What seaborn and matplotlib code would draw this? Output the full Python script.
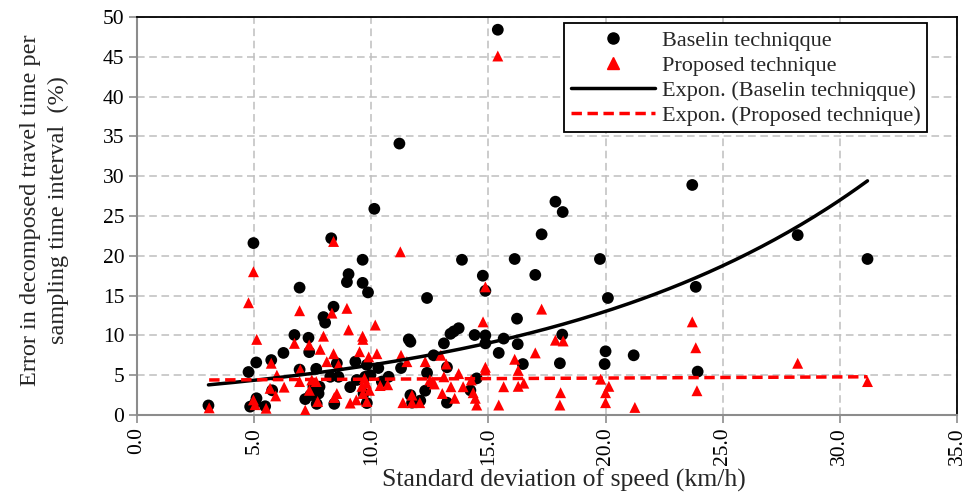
import numpy as np
import pandas as pd
import matplotlib
matplotlib.use("Agg")
import matplotlib.pyplot as plt
import seaborn as sns
from matplotlib.lines import Line2D

# ---------------- data ----------------
base_x = [3.05, 4.76, 4.83, 4.97, 5.04, 5.10, 5.09, 5.47, 5.73, 5.77, 6.25, 6.72, 6.94, 6.94,
          7.18, 7.32, 7.35, 7.40, 7.53, 7.65, 7.67, 7.75, 7.79, 7.96, 8.03, 8.29, 8.39, 8.25,
          8.42, 8.53, 8.60, 8.96, 9.03, 9.10, 9.32, 9.38, 9.63, 9.63, 9.67, 9.74, 9.81, 9.81,
          9.86, 9.96, 10.13, 10.30, 10.45, 10.74, 11.20, 11.27, 11.60, 11.67, 11.67, 11.74,
          12.09, 12.30, 12.38, 12.38, 12.66, 13.10, 13.23, 13.23, 13.38, 13.52, 13.73, 13.87,
          14.23, 14.41, 14.50, 14.76, 14.87, 14.87, 14.87, 15.40, 15.44, 15.65, 16.12, 16.22,
          16.25, 16.47, 17.00, 17.27, 17.86, 18.17, 18.15, 18.05, 19.76, 19.96, 20.00, 20.10,
          21.20, 23.70, 23.85, 23.93, 28.20, 31.18]
base_y = [1.2, 5.4, 1.05, 21.6, 1.5, 2.1, 6.6, 1.1, 6.9, 3.1, 7.8, 10.05, 16.0, 5.7,
          2.0, 9.7, 7.9, 2.5, 3.55, 5.8, 1.4, 2.7, 3.55, 12.3, 11.6, 22.2, 13.6, 4.8,
          1.4, 6.5, 4.8, 16.7, 17.7, 3.5, 6.7, 4.4, 19.5, 16.6, 2.7, 4.8, 6.3, 1.5,
          15.4, 5.0, 25.9, 5.9, 4.2, 4.8, 34.1, 5.9, 9.5, 9.2, 2.5, 1.55,
          1.8, 3.05, 14.7, 5.3, 7.5, 9.0, 6.0, 1.55, 10.2, 10.5, 10.9, 19.5,
          3.1, 10.05, 4.6, 17.5, 15.6, 10.0, 9.0, 48.4, 7.8, 9.6, 19.6, 12.1,
          8.9, 6.4, 17.6, 22.7, 26.8, 25.5, 10.1, 6.5, 19.6, 6.4, 8.0, 14.7,
          7.5, 28.9, 16.1, 5.45, 22.6, 19.6]

prop_x = [3.08, 4.76, 4.97, 4.97, 5.04, 5.11, 5.51, 5.68, 5.73, 5.92, 5.97, 6.28, 6.72, 6.94,
          6.94, 6.97, 7.18, 7.35, 7.36, 7.46, 7.65, 7.71, 7.82, 7.96, 8.10, 8.32, 8.39, 8.39,
          8.42, 8.53, 8.60, 8.96, 9.03, 9.10, 9.36, 9.50, 9.60, 9.63, 9.64, 9.64, 9.71, 9.79,
          9.81, 9.89, 9.92, 10.17, 10.24, 10.38, 10.70, 11.24, 11.27, 11.35, 11.52, 11.74,
          11.74, 12.07, 12.30, 12.50, 12.60, 12.69, 12.97, 13.03, 13.10, 13.20, 13.40, 13.56,
          13.73, 13.92, 14.27, 14.35, 14.44, 14.50, 14.77, 14.87, 14.87, 14.87, 15.40, 15.44,
          15.65, 16.12, 16.27, 16.27, 16.51, 17.00, 17.27, 17.86, 18.19, 18.08, 18.05, 19.79,
          20.14, 20.00, 20.00, 21.25, 23.70, 23.85, 23.90, 28.20, 31.18]
prop_y = [0.9, 14.1, 18.0, 1.9, 1.3, 9.5, 0.85, 3.35, 6.5, 2.4, 5.0, 3.5, 9.0, 13.1,
          4.2, 5.7, 0.6, 8.8, 3.1, 4.4, 4.2, 1.7, 8.25, 9.9, 6.7, 12.8, 21.8, 7.7,
          2.2, 2.7, 6.3, 13.4, 10.7, 1.5, 1.9, 7.95, 3.6, 9.9, 9.5, 2.7, 4.6, 4.0,
          1.7, 7.3, 3.1, 11.3, 7.7, 3.7, 3.8, 20.5, 7.5, 1.55, 6.7, 2.5,
          1.55, 1.55, 6.7, 4.4, 4.2, 3.9, 7.5, 2.7, 4.8, 6.4, 3.55, 2.1,
          5.2, 3.55, 4.4, 2.8, 2.1, 1.25, 11.7, 16.1, 6.0, 5.65, 45.1, 1.25,
          3.55, 7.0, 5.6, 3.6, 4.0, 7.8, 13.3, 9.4, 9.3, 2.8, 1.25, 4.5,
          3.6, 2.8, 1.55, 0.95, 11.7, 8.45, 3.05, 6.5, 4.2]

# exponential trend-line coefficients (y = a * exp(b * x))
base_trend = (3.03, 0.0729)
prop_trend = (4.36, 0.00309)

labels = ["Baselin techniqque", "Proposed technique",
          "Expon. (Baselin techniqque)", "Expon. (Proposed technique)"]
xticks = [0, 5, 10, 15, 20, 25, 30, 35]
yticks = [0, 5, 10, 15, 20, 25, 30, 35, 40, 45, 50]

# ---------------- style ----------------
sns.set_theme(style="white")
plt.rcParams["font.family"] = ["Liberation Serif", "DejaVu Serif"]

fig = plt.figure(figsize=(9.7, 4.97), dpi=100)
ax = fig.add_axes([137 / 970, 1 - 415 / 497, (957 - 137) / 970, (415 - 17) / 497])

df_b = pd.DataFrame({"x": base_x, "y": base_y})
df_p = pd.DataFrame({"x": prop_x, "y": prop_y})

sns.scatterplot(data=df_b, x="x", y="y", ax=ax, marker="o", color="black",
                s=72, edgecolor="none", linewidth=0, zorder=3)
sns.scatterplot(data=df_p, x="x", y="y", ax=ax, marker="^", color="#ff0000",
                s=62, edgecolor="none", linewidth=0, zorder=4)

tb = np.linspace(min(base_x), max(base_x), 200)
tp = np.linspace(min(prop_x), max(prop_x), 200)
df_tb = pd.DataFrame({"x": tb, "y": base_trend[0] * np.exp(base_trend[1] * tb)})
df_tp = pd.DataFrame({"x": tp, "y": prop_trend[0] * np.exp(prop_trend[1] * tp)})
sns.lineplot(data=df_tb, x="x", y="y", ax=ax, color="black", linewidth=2.5, zorder=5)
sns.lineplot(data=df_tp, x="x", y="y", ax=ax, color="#ff0000", linewidth=2.5,
             linestyle=(0, (3, 1.6)), zorder=5)

ax.set_xlim(0, 35)
ax.set_ylim(0, 50)
ax.set_xticks(xticks)
ax.set_xticklabels([f"{v:.1f}" for v in xticks], rotation=90, fontsize=15.5)
ax.set_yticks(yticks)
ax.set_yticklabels([str(v) for v in yticks], fontsize=15.5)

ax.grid(True, color="#bfbfbf", linestyle=(0, (5, 3)), linewidth=1.1)
ax.set_axisbelow(True)

for s in ["left", "bottom"]:
    ax.spines[s].set_color("#8c8c8c")
    ax.spines[s].set_linewidth(1.5)
for s in ["top", "right"]:
    ax.spines[s].set_color("black")
    ax.spines[s].set_linewidth(1.3)
ax.tick_params(axis="both", which="major", direction="out", length=6, width=1.2,
               color="#8c8c8c", labelcolor="black", bottom=True, left=True, pad=3)

ax.set_xlabel("Standard deviation of speed (km/h)", fontsize=18.5)
ax.xaxis.set_label_coords(0.52, -0.135)
ax.set_ylabel("Error in decomposed travel time per\nsampling time interval  (%)",
              fontsize=17.5, linespacing=1.4)
ax.yaxis.set_label_coords(-0.083, 0.515)

handles = [
    Line2D([], [], marker="o", color="black", linestyle="none", markersize=8),
    Line2D([], [], marker="^", color="#ff0000", linestyle="none", markersize=8),
    Line2D([], [], color="black", linewidth=2.5),
    Line2D([], [], color="#ff0000", linewidth=2.5, linestyle=(0, (3, 1.6))),
]
leg = ax.legend(handles, labels, loc="upper right", bbox_to_anchor=(0.969, 0.995),
                fontsize=16, frameon=True, fancybox=False, edgecolor="black",
                handlelength=3.8, handletextpad=0.3, borderpad=0.3, labelspacing=0.2,
                borderaxespad=0.2)
leg.get_frame().set_linewidth(1.3)
leg.get_frame().set_facecolor("white")
leg.get_frame().set_alpha(1)

fig.savefig("out.png", dpi=100)
